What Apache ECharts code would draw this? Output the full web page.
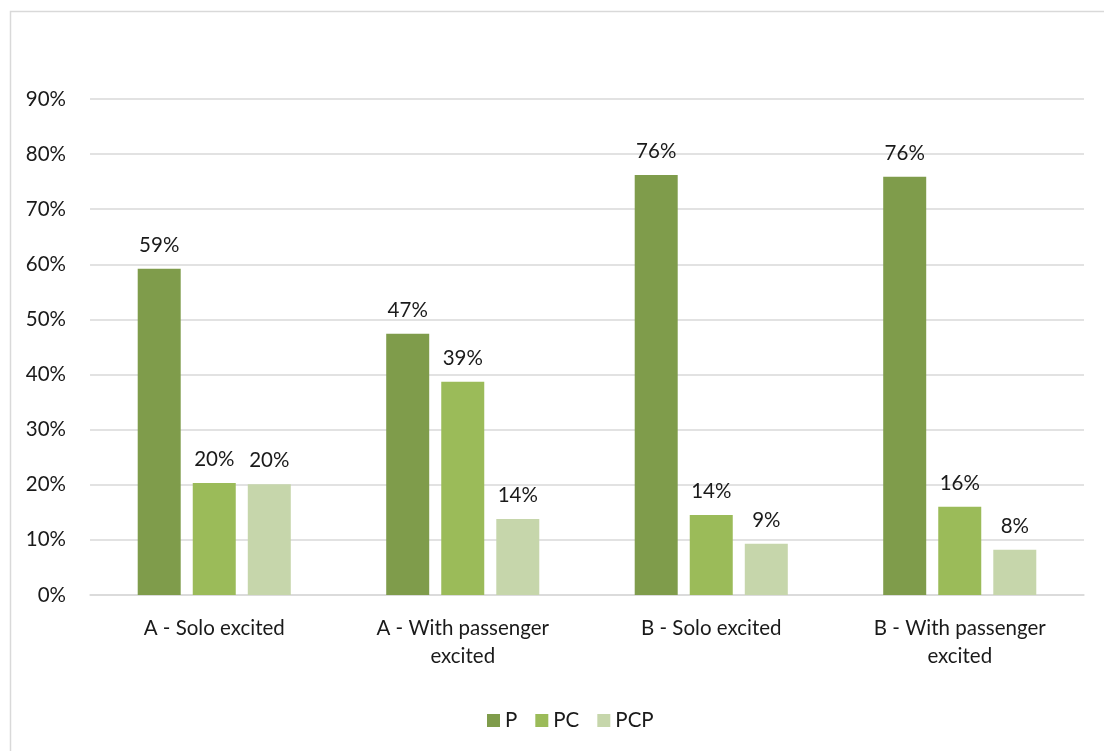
<!DOCTYPE html>
<html>
<head>
<meta charset="utf-8">
<script src="https://cdn.jsdelivr.net/npm/echarts@6/dist/echarts.min.js"></script>
<style>
  html, body { margin: 0; padding: 0; background: #fff; }
  #chart { width: 1104px; height: 751px; }
</style>
</head>
<body>
<div id="chart"></div>
<script>
// Share of each response type per scenario
const categories = ['A - Solo excited', 'A - With passenger\nexcited', 'B - Solo excited', 'B - With passenger\nexcited'];
const seriesNames = ['P', 'PC', 'PCP'];
const valuesP = [0.592, 0.474, 0.762, 0.759];
const valuesPC = [0.203, 0.387, 0.145, 0.160];
const valuesPCP = [0.201, 0.138, 0.093, 0.082];
const yTicks = [0, 0.1, 0.2, 0.3, 0.4, 0.5, 0.6, 0.7, 0.8, 0.9];

const colors = ['#7f9c4b', '#9bbb59', '#c6d6ab'];
const font = 'Lato, "Open Sans", sans-serif';
const textColor = '#1a1a1a';
const fontSize = 20.5;

const chart = echarts.init(document.getElementById('chart'));
const pct = v => Math.round(v * 100) + '%';

const mk = (name, data, color) => ({
  name,
  type: 'bar',
  data,
  barWidth: 43,
  barGap: '28%',
  itemStyle: { color },
  label: {
    show: true,
    position: 'top',
    distance: 13,
    color: textColor,
    fontFamily: font,
    fontSize,
    formatter: p => pct(p.value)
  }
});

chart.setOption({
  animation: false,
  graphic: [{
    type: 'rect',
    shape: { x: 10.5, y: 11.5, width: 1200, height: 900 },
    style: { fill: 'none', stroke: '#d9d9d9', lineWidth: 1.5 },
    silent: true
  }],
  grid: { left: 90, right: 20, top: 99, bottom: 156 },
  legend: {
    data: seriesNames,
    bottom: 15,
    left: 482,
    itemWidth: 13,
    itemHeight: 13,
    itemGap: 18,
    icon: 'rect',
    textStyle: { color: textColor, fontFamily: font, fontSize }
  },
  xAxis: {
    type: 'category',
    data: categories,
    axisLine: { lineStyle: { color: '#d9d9d9', width: 1.5 } },
    axisTick: { show: false },
    axisLabel: {
      color: textColor,
      fontFamily: font,
      fontSize,
      lineHeight: 28,
      margin: 19,
      interval: 0
    }
  },
  yAxis: {
    type: 'value',
    min: 0,
    max: yTicks[yTicks.length - 1],
    interval: 0.1,
    axisLine: { show: false },
    axisTick: { show: false },
    splitLine: { lineStyle: { color: '#d9d9d9', width: 1.5 } },
    axisLabel: {
      color: textColor,
      fontFamily: font,
      fontSize,
      margin: 24,
      formatter: v => pct(v)
    }
  },
  series: [
    mk(seriesNames[0], valuesP, colors[0]),
    mk(seriesNames[1], valuesPC, colors[1]),
    mk(seriesNames[2], valuesPCP, colors[2])
  ]
});
</script>
</body>
</html>
